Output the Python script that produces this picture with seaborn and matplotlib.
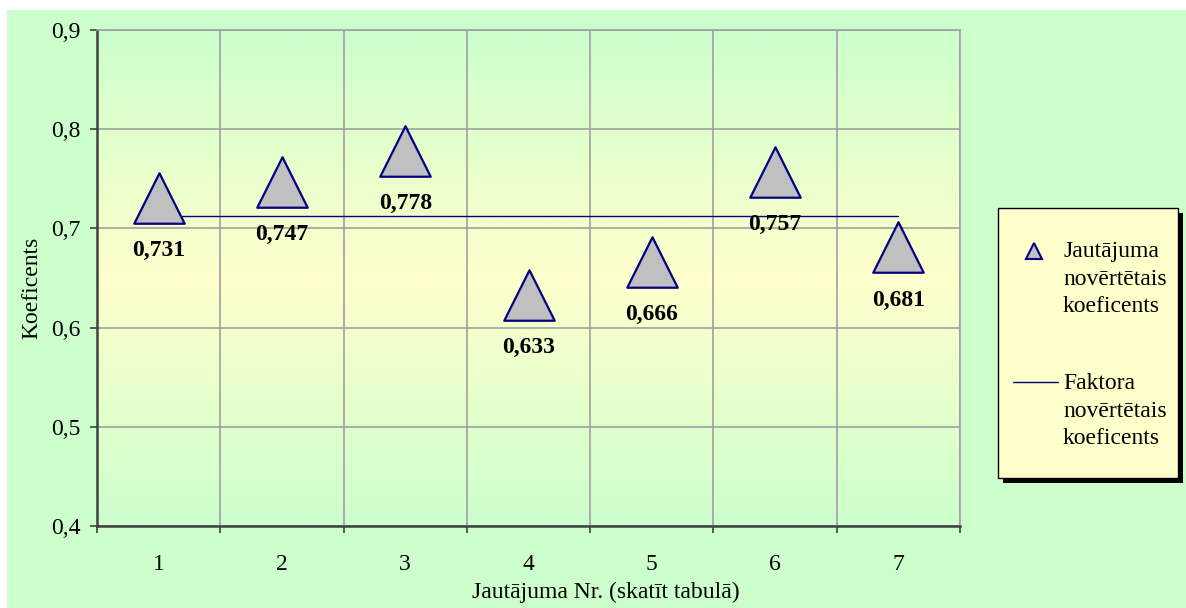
import numpy as np
import pandas as pd
import matplotlib
matplotlib.use("Agg")
import matplotlib.pyplot as plt
from matplotlib.colors import LinearSegmentedColormap
from matplotlib.patches import Rectangle
from matplotlib.lines import Line2D
import seaborn as sns

# Question numbers and their estimated coefficients
questions = [1, 2, 3, 4, 5, 6, 7]
question_coef = [0.731, 0.747, 0.778, 0.633, 0.666, 0.757, 0.681]
# Estimated coefficient of the whole factor
factor_coef = [0.713, 0.713, 0.713, 0.713, 0.713, 0.713, 0.713]
y_ticks = [0.4, 0.5, 0.6, 0.7, 0.8, 0.9]
y_tick_labels = ["0,4", "0,5", "0,6", "0,7", "0,8", "0,9"]
legend_labels = ["Jautājuma\nnovērtētais\nkoeficents", "Faktora\nnovērtētais\nkoeficents"]

df = pd.DataFrame({"nr": questions, "coef": question_coef, "factor": factor_coef})

sns.set_style("white")
plt.rcParams["font.family"] = ["Liberation Serif", "DejaVu Serif"]

W, H = 1186, 608
FS = 17
NAVY = "#000080"
fig = plt.figure(figsize=(W / 100, H / 100), dpi=100, facecolor="white")


def fx(px):
    return px / W


def fy(py):
    return 1 - py / H


# Green chart area background
fig.patches.append(Rectangle((fx(7), 0), 1 - fx(7), fy(10), transform=fig.transFigure,
                             facecolor="#CCFFCC", edgecolor="none", zorder=-5))

ax = fig.add_axes([fx(97), fy(526), (960 - 97) / W, (526 - 30) / H])
ax.set_xlim(0.5, 7.5)
ax.set_ylim(0.4, 0.9)

# Plot area: vertical gradient green -> yellow -> green
cmap = LinearSegmentedColormap.from_list("plotbg", ["#CCFFCC", "#FFFFCC", "#CCFFCC"])
grad = np.linspace(0, 1, 256).reshape(-1, 1)
ax.imshow(grad, extent=(0.5, 7.5, 0.4, 0.9), aspect="auto", cmap=cmap, origin="lower", zorder=0)

# Category boundaries carry grid lines and tick marks; numbers sit in the middle
ax.set_xticks(np.arange(0.5, 7.6, 1.0))
ax.set_xticklabels([])
ax.set_xticks(questions, minor=True)
ax.set_xticklabels([str(q) for q in questions], minor=True)
ax.set_yticks(y_ticks)
ax.set_yticklabels(y_tick_labels)
ax.grid(True, which="major", color="#A0A0A0", linewidth=1.2, zorder=1)
ax.set_axisbelow(True)

ax.tick_params(axis="x", which="major", length=5, width=1.2, color="#404040", direction="out", bottom=True)
ax.tick_params(axis="x", which="minor", length=0, pad=20, labelsize=FS, labelcolor="black")
ax.tick_params(axis="y", which="major", length=5, width=1.2, color="#404040", direction="out",
               left=True, pad=7, labelsize=FS, labelcolor="black")

for side in ["left", "bottom"]:
    ax.spines[side].set_color("#404040")
    ax.spines[side].set_linewidth(1.8)
for side in ["top", "right"]:
    ax.spines[side].set_color("#A0A0A0")
    ax.spines[side].set_linewidth(1.2)

# Factor coefficient line
sns.lineplot(data=df, x="nr", y="factor", ax=ax, color=NAVY, linewidth=1.0,
             zorder=3, legend=False)

# Question coefficients as triangles
sns.scatterplot(data=df, x="nr", y="coef", ax=ax, marker="^", s=1320, color="#C0C0C0",
                edgecolor=NAVY, linewidth=1.6, zorder=4, legend=False)

for x, v in zip(questions, question_coef):
    ax.annotate(f"{v:.3f}".replace(".", ","), (x, v), xytext=(0, -38), textcoords="offset points",
                ha="center", va="center", fontsize=FS, fontweight="bold", color="black", zorder=5)

ax.set_xlabel("")
ax.set_ylabel("Koeficents", fontsize=FS, color="black")
ax.yaxis.set_label_coords(-0.063, 0.48)

fig.text(fx(606), fy(592), "Jautājuma Nr. (skatīt tabulā)", ha="center", va="center",
         fontsize=FS, color="black")

# Legend box with a solid drop shadow
fig.patches.append(Rectangle((fx(1003), fy(483)), (1178 - 998) / W, (478 - 208) / H,
                             transform=fig.transFigure, facecolor="black", edgecolor="none", zorder=5))
fig.patches.append(Rectangle((fx(998), fy(478)), (1178 - 998) / W, (478 - 208) / H,
                             transform=fig.transFigure, facecolor="#FFFFCC", edgecolor="black",
                             linewidth=1.0, zorder=6))

fig.lines.append(Line2D([fx(1034)], [fy(251)], transform=fig.transFigure, linestyle="none",
                        marker="^", markersize=11, markerfacecolor="#C0C0C0",
                        markeredgecolor=NAVY, markeredgewidth=1.5, zorder=7))
fig.lines.append(Line2D([fx(1013), fx(1058)], [fy(382), fy(382)], transform=fig.transFigure,
                        color=NAVY, linewidth=1.0, zorder=7))

for label, top in zip(legend_labels, [241, 373]):
    fig.text(fx(1063), fy(top), label, ha="left", va="top", fontsize=FS, color="black",
             linespacing=1.42, zorder=8, transform=fig.transFigure)

fig.savefig("out.png", dpi=100, facecolor=fig.get_facecolor())
